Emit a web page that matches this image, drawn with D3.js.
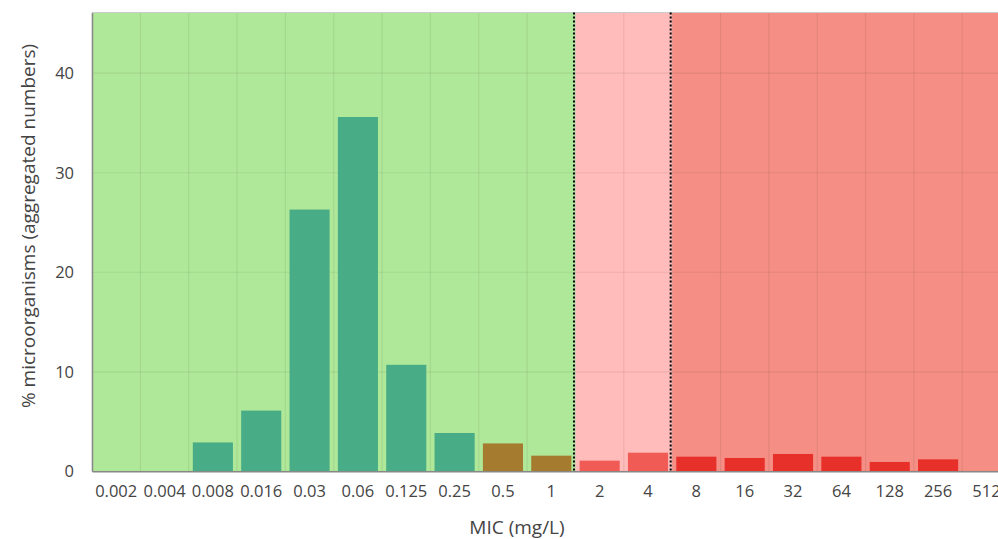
<!DOCTYPE html>
<html><head><meta charset="utf-8">
<script src="https://cdn.jsdelivr.net/npm/d3@7"></script>
<style>body{margin:0;background:#fff;overflow:hidden}text{font-family:"Open Sans",sans-serif}</style>
</head><body><svg id="c" width="998" height="539"></svg>
<script>
const categories = ["0.002","0.004","0.008","0.016","0.03","0.06","0.125","0.25","0.5","1","2","4","8","16","32","64","128","256","512"];
const values = [0,0,2.9,6.1,26.3,35.6,10.7,3.85,2.8,1.57,1.07,1.87,1.47,1.34,1.74,1.47,0.94,1.2,0];
const barColors = ["#48ad86","#48ad86","#48ad86","#48ad86","#48ad86","#48ad86","#48ad86","#48ad86","#a57b30","#a57b30","#f15b55","#f15b55","#e8302a","#e8302a","#e8302a","#e8302a","#e8302a","#e8302a","#e8302a"];
const zones = [{from:"0.002",to:"1",color:"#b0e899"},{from:"2",to:"4",color:"#ffbcba"},{from:"8",to:"512",color:"#f58f85"}];
const breakpoints = ["2","8"];
const yTicks = [0,10,20,30,40];

const svg = d3.select("#c");
const L=92, R=1010.6, T=12.5, B=471.3;
const x = d3.scaleBand().domain(categories).range([L,R]).paddingInner(0.17).paddingOuter(0.085);
const xe = d3.scaleBand().domain(categories).range([L,R]);
const y = d3.scaleLinear().domain([0,46.1]).range([B,T]);

zones.forEach(z=>{
  svg.append("rect").attr("x",xe(z.from)).attr("y",T)
    .attr("width",xe(z.to)+xe.bandwidth()-xe(z.from)).attr("height",B-T).attr("fill",z.color);
});
const g = svg.append("g");
categories.forEach(c=>{
  g.append("line").attr("x1",xe(c)).attr("x2",xe(c)).attr("y1",T).attr("y2",B)
    .attr("stroke","rgba(0,0,0,0.07)").attr("stroke-width",1.2);
});
yTicks.forEach(t=>{
  g.append("line").attr("x1",L).attr("x2",R).attr("y1",y(t)).attr("y2",y(t))
    .attr("stroke","rgba(0,0,0,0.07)").attr("stroke-width",1.2);
});
svg.append("line").attr("x1",L).attr("x2",R).attr("y1",T).attr("y2",T).attr("stroke","#ccc");

svg.append("g").selectAll("rect").data(categories).join("rect")
  .attr("x",c=>x(c)).attr("width",x.bandwidth())
  .attr("y",(c,i)=>y(values[i])).attr("height",(c,i)=>B-y(values[i]))
  .attr("fill",(c,i)=>barColors[i]);

breakpoints.forEach(b=>{
  svg.append("line").attr("x1",xe(b)-1.5).attr("x2",xe(b)-1.5).attr("y1",T).attr("y2",B)
    .attr("stroke","#000").attr("stroke-width",2).attr("stroke-dasharray","2,2");
});

const yAxis = svg.append("g").attr("transform",`translate(${L},0)`)
  .call(d3.axisLeft(y).tickValues(yTicks).tickSize(0).tickPadding(18));
yAxis.select(".domain").attr("stroke","#888").attr("stroke-width",1.5);
yAxis.selectAll("text").attr("font-size",16.5).attr("fill","#444");

const xAxis = svg.append("g").attr("transform",`translate(0,${B})`)
  .call(d3.axisBottom(x).tickSize(0).tickPadding(14));
xAxis.select(".domain").attr("stroke","#888").attr("stroke-width",1.5);
xAxis.selectAll("text").attr("font-size",16.5).attr("fill","#444");

svg.append("text").attr("x",517).attr("y",534).attr("text-anchor","middle")
  .attr("font-size",19).attr("fill","#444").text("MIC (mg/L)");
svg.append("text").attr("transform","translate(35,226) rotate(-90)").attr("text-anchor","middle")
  .attr("font-size",19).attr("fill","#444").text("% microorganisms (aggregated numbers)");
</script></body></html>
